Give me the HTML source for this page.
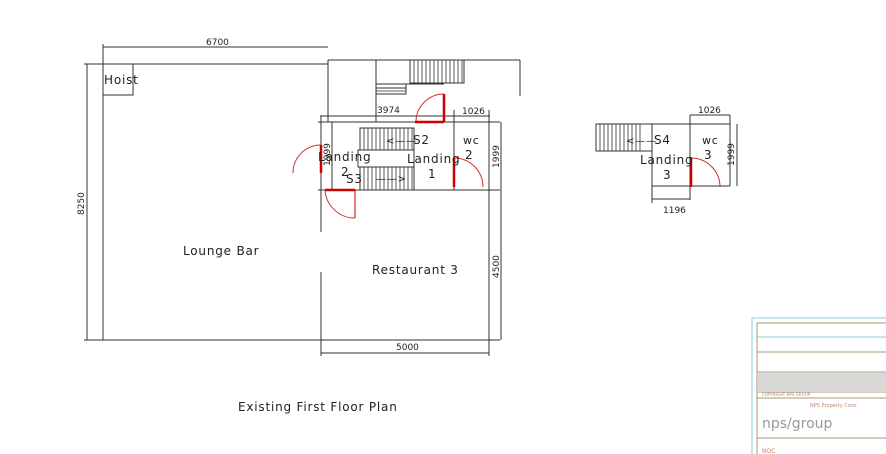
<!DOCTYPE html>
<html><head><meta charset="utf-8"><style>
html,body{margin:0;padding:0;background:#fff;width:886px;height:454px;overflow:hidden}
svg{display:block}
text{font-family:"DejaVu Sans","Liberation Sans",sans-serif;fill:#222}
</style></head><body>
<svg width="886" height="454" viewBox="0 0 886 454" xmlns="http://www.w3.org/2000/svg">
<g stroke="#333" stroke-width="1" fill="none">
<line x1="84" y1="64" x2="328" y2="64"/>
<line x1="103" y1="64" x2="103" y2="340"/>
<line x1="84" y1="340" x2="500" y2="340"/>
<line x1="328" y1="60" x2="328" y2="122"/>
<rect x="103" y="64" width="30" height="31"/>
<line x1="103" y1="47" x2="328" y2="47"/>
<line x1="103" y1="44" x2="103" y2="64"/>
<line x1="87" y1="64" x2="87" y2="340"/>
<line x1="328" y1="60" x2="520" y2="60"/>
<line x1="520" y1="60" x2="520" y2="96"/>
<line x1="376" y1="60" x2="376" y2="122"/>
<rect x="410" y="60" width="54" height="23"/>
<rect x="376" y="84" width="30" height="10"/>
<line x1="376" y1="88" x2="406" y2="88"/>
<line x1="406" y1="84" x2="444" y2="84"/>
<line x1="318" y1="122" x2="500" y2="122"/>
<line x1="318" y1="190" x2="500" y2="190"/>
<line x1="321" y1="116" x2="321" y2="232"/>
<line x1="321" y1="272" x2="321" y2="356"/>
<line x1="332" y1="122" x2="332" y2="190"/>
<line x1="454" y1="110" x2="454" y2="190"/>
<line x1="489" y1="110" x2="489" y2="356"/>
<line x1="320" y1="116" x2="454" y2="116"/>
<line x1="454" y1="116" x2="490" y2="116"/>
<line x1="501" y1="122" x2="501" y2="190"/>
<line x1="501" y1="190" x2="501" y2="340"/>
<line x1="321" y1="353" x2="489" y2="353"/>
<rect x="360" y="128" width="54" height="62"/>
<rect x="358" y="150" width="56" height="17" fill="#fff"/>
<rect x="596" y="124" width="56" height="27"/>
<line x1="652" y1="124" x2="730" y2="124"/>
<line x1="652" y1="124" x2="652" y2="186"/>
<line x1="652" y1="186" x2="730" y2="186"/>
<line x1="690" y1="115" x2="690" y2="200"/>
<line x1="730" y1="115" x2="730" y2="186"/>
<line x1="690" y1="115" x2="730" y2="115"/>
<line x1="737" y1="124" x2="737" y2="186"/>
<line x1="652" y1="199" x2="690" y2="199"/>
<line x1="652" y1="186" x2="652" y2="203"/>
</g>
<g stroke="#333" stroke-width="0.8">
<path d="M414 60v23M418 60v23M422 60v23M426 60v23M430 60v23M434 60v23M438 60v23M442 60v23M446 60v23M450 60v23M454 60v23M458 60v23M462 60v23"/>
<path d="M376 91h30"/>
<path d="M364 128v22M368 128v22M372 128v22M376 128v22M380 128v22M384 128v22M388 128v22M392 128v22M396 128v22M400 128v22M404 128v22M408 128v22M412 128v22"/>
<path d="M364 167v23M368 167v23M372 167v23M376 167v23M380 167v23M384 167v23M388 167v23M392 167v23M396 167v23M400 167v23M404 167v23M408 167v23M412 167v23"/>
<path d="M600 124v27M604 124v27M608 124v27M612 124v27M616 124v27M620 124v27M624 124v27M628 124v27M632 124v27M636 124v27M640 124v27"/>
</g>
<g stroke="#c33" fill="none" stroke-width="1">
<path d="M444 94 A28 28 0 0 0 416 122"/>
<path d="M321 145 A28 28 0 0 0 293 173"/>
<path d="M325 190 A30 30 0 0 0 355 218"/>
<path d="M454 158 A29 29 0 0 1 483 187"/>
<path d="M691 158 A29 29 0 0 1 720 187"/>
</g>
<g stroke="#c00" stroke-width="2.5">
<line x1="444" y1="94" x2="444" y2="122"/><line x1="415" y1="122" x2="444" y2="122"/>
<line x1="321" y1="145" x2="321" y2="173"/>
<line x1="325" y1="190" x2="355" y2="190"/><line x1="355" y1="190" x2="355" y2="218" stroke-width="1"/>
<line x1="454" y1="158" x2="454" y2="187"/>
<line x1="691" y1="158" x2="691" y2="187"/>
</g>
<g font-size="12" letter-spacing="0.8">
<text x="104" y="84">Hoist</text>
<text x="183" y="255">Lounge Bar</text>
<text x="372" y="274">Restaurant 3</text>
<text x="318" y="161">Landing</text><text x="341" y="176">2</text>
<text x="407" y="163">Landing</text><text x="428" y="178">1</text>
<text x="413" y="144">S2</text><text x="346" y="183">S3</text>
<text x="386" y="144" font-size="10">&lt;——</text><text x="376" y="182" font-size="10">——&gt;</text>
<text x="463" y="144" font-size="11">wc</text><text x="465" y="159">2</text>
<text x="654" y="144">S4</text><text x="626" y="144" font-size="10">&lt;——</text>
<text x="640" y="164">Landing</text><text x="663" y="179">3</text>
<text x="702" y="144" font-size="11">wc</text><text x="704" y="159">3</text>
<text x="238" y="411">Existing First Floor Plan</text>
</g>
<g font-size="9">
<text x="206" y="45">6700</text>
<text x="377" y="113">3974</text>
<text x="462" y="114">1026</text>
<text x="698" y="113">1026</text>
<text x="663" y="213">1196</text>
<text x="396" y="350">5000</text>
<text transform="translate(84,215) rotate(-90)">8250</text>
<text transform="translate(499,168) rotate(-90)">1999</text>
<text transform="translate(499,278) rotate(-90)">4500</text>
<text transform="translate(330,166) rotate(-90)">1999</text>
<text transform="translate(734,166) rotate(-90)">1999</text>
</g>
<g fill="none" stroke-width="1">
<rect x="752" y="318" width="140" height="140" stroke="#8cd"/>
<rect x="757" y="323" width="135" height="135" stroke="#a97"/>
<line x1="757" y1="337" x2="886" y2="337" stroke="#8cd"/>
<line x1="757" y1="352" x2="886" y2="352" stroke="#a97"/>
<line x1="757" y1="372" x2="886" y2="372" stroke="#a97"/>
<line x1="757" y1="392" x2="886" y2="392" stroke="#a97"/>
<line x1="757" y1="398" x2="886" y2="398" stroke="#a97"/>
<line x1="757" y1="438" x2="886" y2="438" stroke="#a97"/>
</g>
<rect x="758" y="373" width="128" height="19" fill="#d8d8d8"/>
<text x="762" y="428" font-size="14" style="fill:#999">nps/group</text>
<text x="810" y="407" font-size="5" style="fill:#b86">NPS Property Cons</text>
<text x="762" y="396" font-size="4" style="fill:#b86">COPYRIGHT NPS GROUP</text>
<text x="762" y="453" font-size="6" style="fill:#b86">NOC</text>
</svg>
</body></html>
